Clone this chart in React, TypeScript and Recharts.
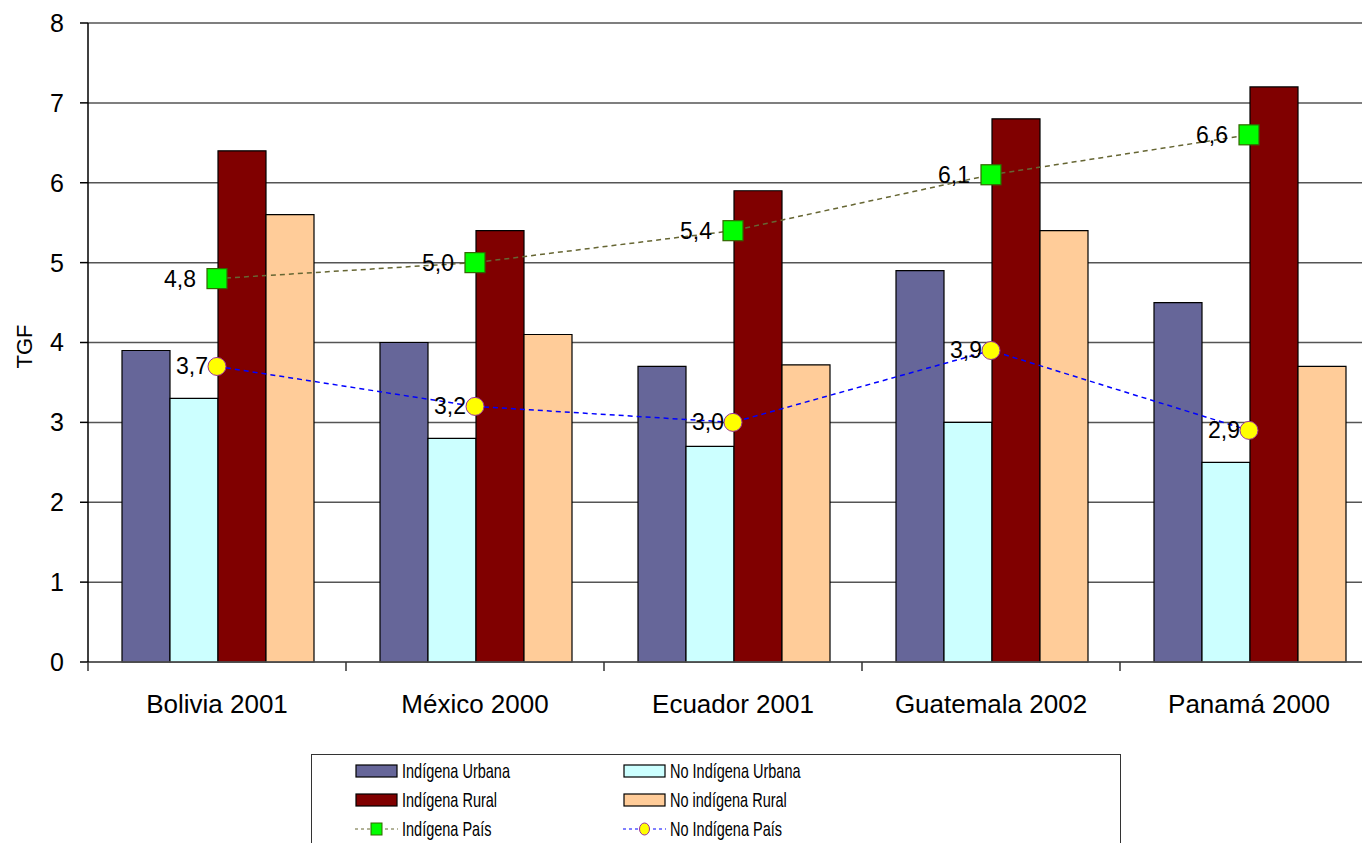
import React from 'react';
import {
  ComposedChart,
  Bar,
  Line,
  XAxis,
  YAxis,
  CartesianGrid,
  LabelList,
} from 'recharts';

const categories = ['Bolivia 2001', 'México 2000', 'Ecuador 2001', 'Guatemala 2002', 'Panamá 2000'];
const indigenaUrbana = [3.9, 4.0, 3.7, 4.9, 4.5];
const noIndigenaUrbana = [3.3, 2.8, 2.7, 3.0, 2.5];
const indigenaRural = [6.4, 5.4, 5.9, 6.8, 7.2];
const noIndigenaRural = [5.6, 4.1, 3.72, 5.4, 3.7];
const indigenaPais = [4.8, 5.0, 5.4, 6.1, 6.6];
const noIndigenaPais = [3.7, 3.2, 3.0, 3.9, 2.9];
const yTicks = [0, 1, 2, 3, 4, 5, 6, 7, 8];

const FONT = '"Liberation Sans", Arial, sans-serif';

const data = categories.map((name, i) => ({
  name,
  iu: indigenaUrbana[i],
  niu: noIndigenaUrbana[i],
  ir: indigenaRural[i],
  nir: noIndigenaRural[i],
  ip: indigenaPais[i],
  nip: noIndigenaPais[i],
}));

const barSeries = [
  { key: 'iu', name: 'Indígena Urbana', color: '#666699' },
  { key: 'niu', name: 'No Indígena Urbana', color: '#CCFFFF' },
  { key: 'ir', name: 'Indígena Rural', color: '#800000' },
  { key: 'nir', name: 'No indígena Rural', color: '#FFCC99' },
];

const fmt = (v: number) => v.toFixed(1).replace('.', ',');

// x tick: label in the middle, small tick marks on category boundaries (Excel style)
const XTick = (props: any) => {
  const { x, y, payload, index, visibleTicksCount } = props;
  const half = payload && payload.offset ? payload.offset : 129;
  const last = index === (visibleTicksCount || categories.length) - 1;
  return (
    <g>
      <line x1={x - half} x2={x - half} y1={y} y2={y + 9} stroke="#333" strokeWidth={1.5} />
      {last && <line x1={x + half} x2={x + half} y1={y} y2={y + 9} stroke="#333" strokeWidth={1.5} />}
      <text x={x} y={y + 51} textAnchor="middle" fontSize={26} fontFamily={FONT} fill="#000">
        {payload.value}
      </text>
    </g>
  );
};

const SquareDot = (props: any) => {
  const { cx, cy } = props;
  if (cx == null || cy == null) return null;
  return <rect x={cx - 10} y={cy - 10} width={20} height={20} fill="#00FF00" stroke="#336600" strokeWidth={1.2} />;
};

const CircleDot = (props: any) => {
  const { cx, cy } = props;
  if (cx == null || cy == null) return null;
  return <circle cx={cx} cy={cy} r={9} fill="#FFFF00" stroke="#993399" strokeWidth={1} />;
};

const makeLabel = (gap: number) => (props: any) => {
  const { x, y, value } = props;
  return (
    <text x={x - gap} y={y} textAnchor="end" dominantBaseline="central" fontSize={23} fontFamily={FONT} fill="#000">
      {fmt(Number(value))}
    </text>
  );
};

function LegendItem({ type, color, marker, label }: { type: 'bar' | 'line'; color: string; marker?: 'square' | 'circle'; label: string }) {
  return (
    <div style={{ display: 'flex', alignItems: 'center', height: 29 }}>
      <svg width={44} height={16} style={{ flex: 'none' }}>
        {type === 'bar' ? (
          <rect x={1} y={2} width={41} height={12} fill={color} stroke="#000" strokeWidth={1.2} />
        ) : (
          <g>
            <line x1={0} x2={43} y1={8} y2={8} stroke={color} strokeWidth={1} strokeDasharray="3 3" />
            {marker === 'square' ? (
              <rect x={16} y={2} width={11} height={12} fill="#00FF00" stroke="#336600" strokeWidth={1} />
            ) : (
              <ellipse cx={21.5} cy={8} rx={5} ry={6} fill="#FFFF00" stroke="#993399" strokeWidth={1} />
            )}
          </g>
        )}
      </svg>
      <span
        style={{
          display: 'inline-block',
          marginLeft: 3,
          fontSize: 21,
          fontFamily: FONT,
          whiteSpace: 'nowrap',
          transform: 'scaleX(0.69)',
          transformOrigin: 'left center',
          color: '#000',
        }}
      >
        {label}
      </span>
    </div>
  );
}

export default function App() {
  return (
    <div
      style={{
        position: 'absolute',
        left: 0,
        top: 0,
        width: 1362,
        height: 843,
        overflow: 'hidden',
        background: '#fff',
      }}
    >
      <ComposedChart
        width={1400}
        height={843}
        data={data}
        margin={{ top: 23, right: 22, bottom: 121, left: 0 }}
        barGap={0}
        barCategoryGap={34}
      >
        <CartesianGrid vertical={false} stroke="#555" strokeWidth={1.5} />
        <XAxis
          dataKey="name"
          height={60}
          tickLine={false}
          tickSize={0}
          tickMargin={0}
          axisLine={{ stroke: '#555', strokeWidth: 1.5 }}
          tick={<XTick />}
          interval={0}
        />
        <YAxis
          width={88}
          domain={[0, 8]}
          ticks={yTicks}
          interval={0}
          tickSize={8}
          tickMargin={16}
          axisLine={{ stroke: '#000', strokeWidth: 1.5 }}
          tickLine={{ stroke: '#000', strokeWidth: 1.5 }}
          tick={{ fontSize: 25, fill: '#000', fontFamily: FONT }}
          label={{
            content: (p: any) => {
              const vb = p.viewBox || { x: 0, y: 23, height: 639 };
              const cx = vb.x + 24;
              const cy = vb.y + vb.height / 2 + 4;
              return (
                <text
                  transform={`translate(${cx},${cy}) rotate(-90)`}
                  textAnchor="middle"
                  dominantBaseline="central"
                  fontSize={22}
                  fontFamily={FONT}
                  fill="#000"
                >
                  TGF
                </text>
              );
            },
          }}
        />
        {barSeries.map((s) => (
          <Bar
            key={s.key}
            dataKey={s.key}
            name={s.name}
            fill={s.color}
            stroke="#000"
            strokeWidth={1.2}
            isAnimationActive={false}
          />
        ))}
        <Line
          dataKey="ip"
          name="Indígena País"
          stroke="#666633"
          strokeWidth={1.5}
          strokeDasharray="5 4"
          dot={<SquareDot />}
          activeDot={false}
          isAnimationActive={false}
        >
          <LabelList dataKey="ip" content={makeLabel(21)} />
        </Line>
        <Line
          dataKey="nip"
          name="No Indígena País"
          stroke="#0000FF"
          strokeWidth={1.5}
          strokeDasharray="5 4"
          dot={<CircleDot />}
          activeDot={false}
          isAnimationActive={false}
        >
          <LabelList dataKey="nip" content={makeLabel(9)} />
        </Line>
      </ComposedChart>

      <div
        style={{
          position: 'absolute',
          left: 311,
          top: 754,
          width: 810,
          height: 120,
          border: '1.5px solid #333',
          boxSizing: 'border-box',
          background: '#fff',
        }}
      >
        <div style={{ position: 'absolute', left: 43, top: 1 }}>
          <LegendItem type="bar" color={barSeries[0].color} label={barSeries[0].name} />
          <LegendItem type="bar" color={barSeries[2].color} label={barSeries[2].name} />
          <LegendItem type="line" color="#666633" marker="square" label="Indígena País" />
        </div>
        <div style={{ position: 'absolute', left: 311, top: 1 }}>
          <LegendItem type="bar" color={barSeries[1].color} label={barSeries[1].name} />
          <LegendItem type="bar" color={barSeries[3].color} label={barSeries[3].name} />
          <LegendItem type="line" color="#0000FF" marker="circle" label="No Indígena País" />
        </div>
      </div>
    </div>
  );
}
